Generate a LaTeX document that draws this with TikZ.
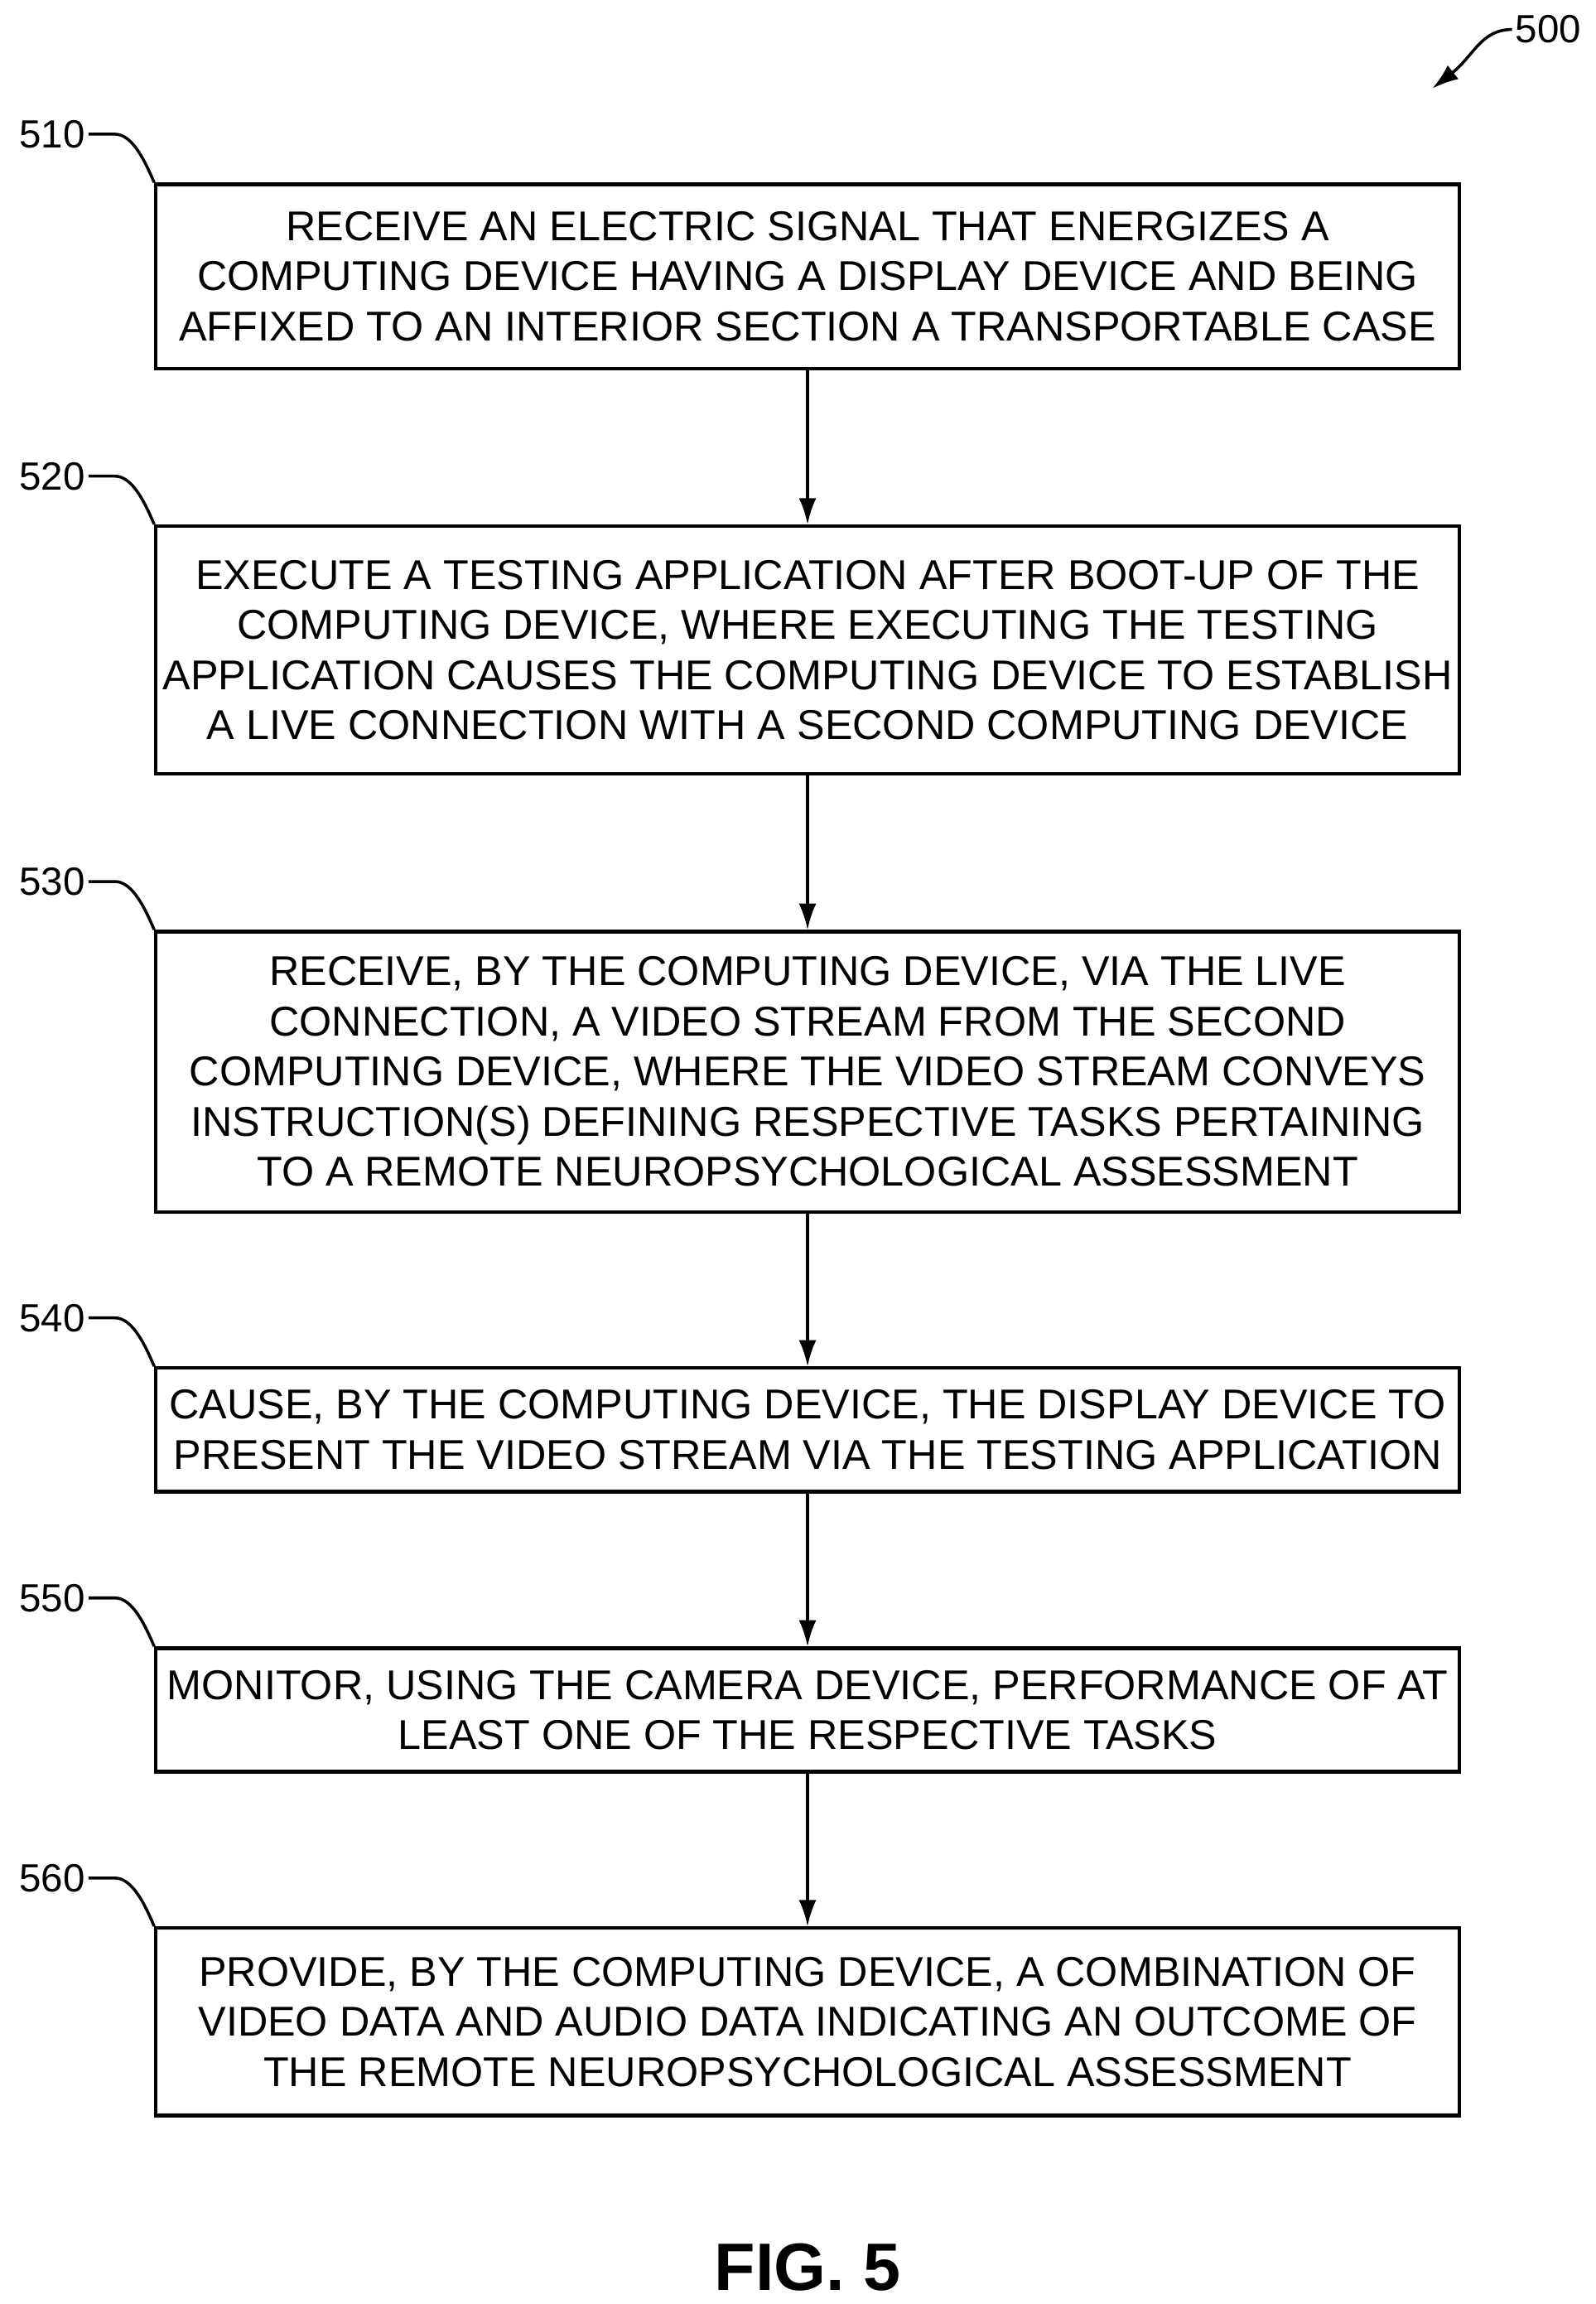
\documentclass[tikz,border=0pt]{standalone}
\usepackage{fontspec}
\setmainfont{Liberation Sans}
\usetikzlibrary{arrows.meta}
\tikzset{
  stepbox/.style={draw, line width=1.2pt, minimum width=15.72cm, align=center, font=\fontsize{14.3}{17.2}\selectfont, inner sep=0pt},
  tag/.style={font=\fontsize{13.5}{16}\selectfont, anchor=east, inner sep=1pt},
  flow/.style={-{Latex[length=9pt,width=6pt]}, line width=1pt},
  lead/.style={line width=1pt}
}
\begin{document}
\begin{tikzpicture}[x=0.01778cm, y=-0.01778cm]
    \useasboundingbox (0,0) rectangle (1083,1563);
    % steps
    \node[stepbox, minimum height=2.22cm] (s510) at (548,187.5) {RECEIVE AN ELECTRIC SIGNAL THAT ENERGIZES A\\COMPUTING DEVICE HAVING A DISPLAY DEVICE AND BEING\\AFFIXED TO AN INTERIOR SECTION A TRANSPORTABLE CASE};
    \node[stepbox, minimum height=2.99cm] (s520) at (548,441) {EXECUTE A TESTING APPLICATION AFTER BOOT-UP OF THE\\COMPUTING DEVICE, WHERE EXECUTING THE TESTING\\APPLICATION CAUSES THE COMPUTING DEVICE TO ESTABLISH\\A LIVE CONNECTION WITH A SECOND COMPUTING DEVICE};
    \node[stepbox, minimum height=3.38cm] (s530) at (548,727) {RECEIVE, BY THE COMPUTING DEVICE, VIA THE LIVE\\CONNECTION, A VIDEO STREAM FROM THE SECOND\\COMPUTING DEVICE, WHERE THE VIDEO STREAM CONVEYS\\INSTRUCTION(S) DEFINING RESPECTIVE TASKS PERTAINING\\TO A REMOTE NEUROPSYCHOLOGICAL ASSESSMENT};
    \node[stepbox, minimum height=1.49cm] (s540) at (548,970) {CAUSE, BY THE COMPUTING DEVICE, THE DISPLAY DEVICE TO\\PRESENT THE VIDEO STREAM VIA THE TESTING APPLICATION};
    \node[stepbox, minimum height=1.49cm] (s550) at (548,1160) {MONITOR, USING THE CAMERA DEVICE, PERFORMANCE OF AT\\LEAST ONE OF THE RESPECTIVE TASKS};
    \node[stepbox, minimum height=2.26cm] (s560) at (548,1371.5) {PROVIDE, BY THE COMPUTING DEVICE, A COMBINATION OF\\VIDEO DATA AND AUDIO DATA INDICATING AN OUTCOME OF\\THE REMOTE NEUROPSYCHOLOGICAL ASSESSMENT};
    % arrows
    \foreach \a/\b in {s510/s520, s520/s530, s530/s540, s540/s550, s550/s560}
        \draw[flow] (\a) -- (\b);
    % reference labels
    \foreach \s/\y in {510/91, 520/323, 530/598, 540/894, 550/1084, 560/1274} {
        \node[tag] (l\s) at (60,\y) {\s};
        \draw[lead] (l\s.east) -- ++(18,0) .. controls ++(12,0) and ++(-6,-14) .. (s\s.north west);
    }
    \node[tag, anchor=west] (l500) at (1026,20) {500};
    \coordinate (p500) at (972,60);
    \draw[flow] (l500.west) .. controls (1005,20) and (1000,38) .. (p500);
    \node[font=\bfseries\fontsize{23}{27}\selectfont] (fig) at (548,1538) {FIG. 5};
\end{tikzpicture}
\end{document}
